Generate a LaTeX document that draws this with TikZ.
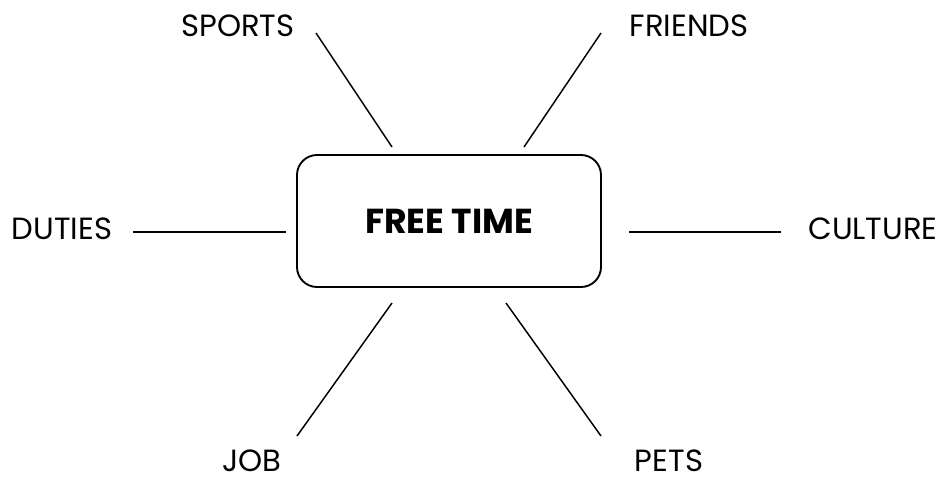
\documentclass[tikz,border=0pt]{standalone}
\usepackage{fontspec}
\setmainfont{Poppins}
\begin{document}
\begin{tikzpicture}[x=0.75pt,y=-0.75pt,
    topic/.style={font=\fontsize{23}{26}\selectfont,inner sep=0pt},
    centre/.style={draw,rounded corners=15pt,line width=1.4pt,minimum width=228pt,minimum height=99pt,font=\bfseries\fontsize{26}{30}\selectfont},
    branch/.style={line width=1.1pt}]
       \useasboundingbox (0,0) rectangle (947,479);
       \node[centre] (time) at (449,221) {FREE TIME};

       \node[topic] (sports) at (238,26) {SPORTS};
       \node[topic] (friends) at (689,26) {FRIENDS};
       \node[topic] (duties) at (62,229) {DUTIES};
       \node[topic] (culture) at (873,229) {CULTURE};
       \node[topic] (job) at (252,461) {JOB};
       \node[topic] (pets) at (669,461) {PETS};

       \coordinate (sports-a) at (316,33);   \coordinate (sports-b) at (392,147);
       \coordinate (friends-a) at (601,33);  \coordinate (friends-b) at (524,147);
       \coordinate (duties-a) at (133,232);  \coordinate (duties-b) at (286,232);
       \coordinate (culture-a) at (629,232); \coordinate (culture-b) at (781,232);
       \coordinate (job-a) at (297,436);     \coordinate (job-b) at (392,303);
       \coordinate (pets-a) at (601,436);    \coordinate (pets-b) at (506,303);

       \draw[branch] (sports-a) -- (sports-b);
       \draw[branch] (friends-a) -- (friends-b);
       \draw[branch] (duties-a) -- (duties-b);
       \draw[branch] (culture-a) -- (culture-b);
       \draw[branch] (job-a) -- (job-b);
       \draw[branch] (pets-a) -- (pets-b);
     \end{tikzpicture}
\end{document}
